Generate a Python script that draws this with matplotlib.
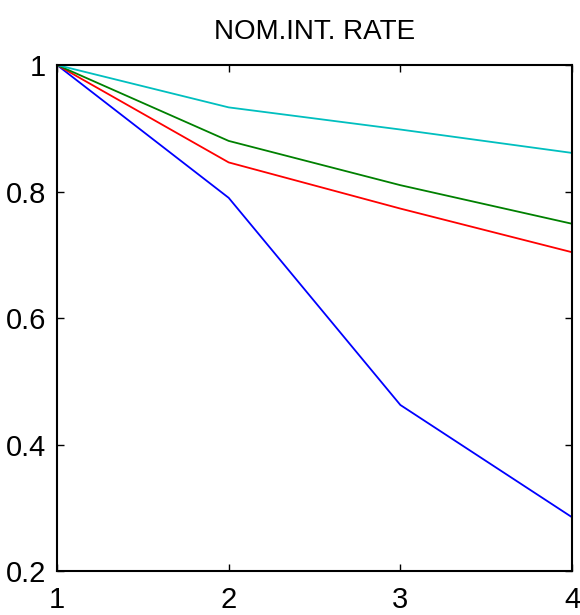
import matplotlib
matplotlib.use("Agg")
import matplotlib.pyplot as plt

periods = [1, 2, 3, 4]
blue_vals = [1.0, 0.790, 0.4625, 0.285]
red_vals = [1.0, 0.846, 0.773, 0.704]
green_vals = [1.0, 0.880, 0.810, 0.749]
cyan_vals = [1.0, 0.933, 0.898, 0.861]

plt.rcParams['font.family'] = ['Liberation Sans Narrow', 'Liberation Sans', 'DejaVu Sans']

fig = plt.figure(figsize=(5.8, 6.15), dpi=100)
ax = fig.add_axes([0.0983, 0.0715, 0.888, 0.8228])

ax.plot(periods, blue_vals, color='#0000ff', lw=1.3)
ax.plot(periods, red_vals, color='#ff0000', lw=1.3)
ax.plot(periods, green_vals, color='#008000', lw=1.3)
ax.plot(periods, cyan_vals, color='#00bfbf', lw=1.3)

ax.set_xlim(1, 4)
ax.set_ylim(0.2, 1)
ax.set_xticks([1, 2, 3, 4])
ax.set_yticks([0.2, 0.4, 0.6, 0.8, 1.0])
ax.set_yticklabels(['0.2', '0.4', '0.6', '0.8', '1'])
ax.tick_params(direction='in', top=True, right=True, length=5, width=1,
               labelsize=21)
ax.tick_params(axis='x', pad=11)
ax.tick_params(axis='y', pad=8)
for s in ax.spines.values():
    s.set_linewidth(1.5)

ax.set_title('NOM.INT. RATE', fontsize=20, pad=19)

plt.savefig('out.png', dpi=100)
plt.close()
